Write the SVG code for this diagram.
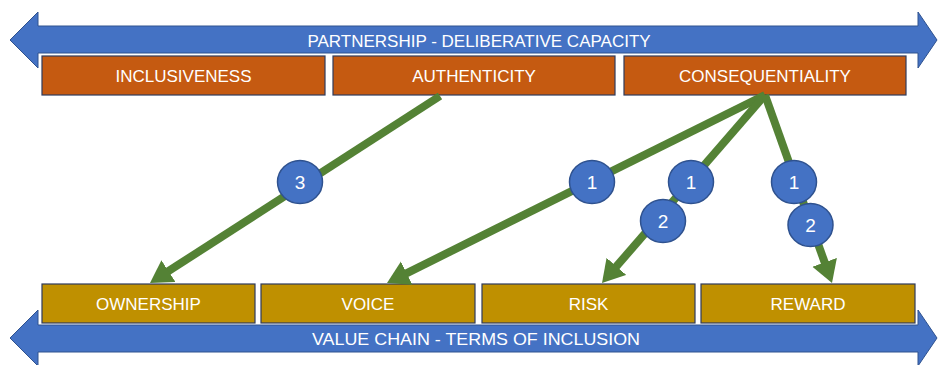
<svg xmlns="http://www.w3.org/2000/svg" width="938" height="365" viewBox="0 0 938 365">
  <style>
    .band { fill: #4472C4; stroke: #2F528F; stroke-width: 1; }
    .top { fill: #C55A11; stroke: #2F3B5C; stroke-width: 1.2; }
    .bot { fill: #BF9000; stroke: #2F3B5C; stroke-width: 1.2; }
    .lbl { fill: #FFFFFF; font-family: "Liberation Sans", Arial, sans-serif; font-size: 17px; text-anchor: middle; }
    .band-lbl { fill: #FFFFFF; font-family: "Liberation Sans", Arial, sans-serif; font-size: 17px; text-anchor: middle; }
    .link { stroke: #548235; stroke-width: 8; fill: none; marker-end: url(#head); }
    .badge { fill: #4472C4; stroke: #2F528F; stroke-width: 1.5; }
    .num { fill: #FFFFFF; font-family: "Liberation Sans", Arial, sans-serif; font-size: 19px; text-anchor: middle; }
  </style>
  <defs>
    <marker id="head" markerUnits="userSpaceOnUse" markerWidth="24" markerHeight="28" refX="2" refY="13" orient="auto" viewBox="0 0 24 28">
      <path d="M0,0 L22,13 L0,26 z" fill="#548235"/>
    </marker>
  </defs>

  <!-- top double arrow band -->
  <g id="band-top">
    <path class="band" d="M10,40 L38,12 L38,26 L918,26 L918,12 L937,40 L918,68 L918,53 L38,53 L38,68 z"/>
    <text class="band-lbl" x="479" y="47">PARTNERSHIP - DELIBERATIVE CAPACITY</text>
  </g>

  <!-- bottom double arrow band -->
  <g id="band-bottom">
    <path class="band" d="M10,338 L38,310 L38,325 L918,325 L918,310 L937,338 L918,366 L918,352 L38,352 L38,366 z"/>
    <text class="band-lbl" x="476" y="345" textLength="328" lengthAdjust="spacingAndGlyphs">VALUE CHAIN - TERMS OF INCLUSION</text>
  </g>

  <!-- deliberative qualities -->
  <g id="inclusiveness">
    <rect class="top" x="42" y="56" width="283" height="39"/>
    <text class="lbl" x="183.5" y="82">INCLUSIVENESS</text>
  </g>
  <g id="authenticity">
    <rect class="top" x="333" y="56" width="282" height="39"/>
    <text class="lbl" x="474" y="82">AUTHENTICITY</text>
  </g>
  <g id="consequentiality">
    <rect class="top" x="624" y="56" width="282" height="39"/>
    <text class="lbl" x="765" y="82">CONSEQUENTIALITY</text>
  </g>

  <!-- terms of inclusion -->
  <g id="ownership">
    <rect class="bot" x="42" y="284" width="213" height="39"/>
    <text class="lbl" x="148.5" y="310">OWNERSHIP</text>
  </g>
  <g id="voice">
    <rect class="bot" x="261" y="284" width="214" height="39"/>
    <text class="lbl" x="368" y="310">VOICE</text>
  </g>
  <g id="risk">
    <rect class="bot" x="482" y="284" width="213" height="39"/>
    <text class="lbl" x="588.5" y="310">RISK</text>
  </g>
  <g id="reward">
    <rect class="bot" x="701" y="284" width="214" height="39"/>
    <text class="lbl" x="808" y="310">REWARD</text>
  </g>

  <!-- connectors -->
  <g id="connectors">
    <line class="link" x1="440" y1="96" x2="166.8" y2="272.2"/>
    <line class="link" x1="765" y1="95" x2="404.9" y2="274.1"/>
    <line class="link" x1="765" y1="95" x2="615.1" y2="267.9"/>
    <line class="link" x1="765" y1="95" x2="825.3" y2="264.2"/>
  </g>

  <!-- step badges -->
  <g id="badge-own-3">
    <ellipse class="badge" cx="300" cy="182" rx="22.5" ry="21.5"/>
    <text class="num" x="300" y="189">3</text>
  </g>
  <g id="badge-voice-1">
    <ellipse class="badge" cx="592" cy="182" rx="22.5" ry="21.5"/>
    <text class="num" x="592" y="189">1</text>
  </g>
  <g id="badge-risk-1">
    <ellipse class="badge" cx="691" cy="182" rx="22.5" ry="21.5"/>
    <text class="num" x="691" y="189">1</text>
  </g>
  <g id="badge-risk-2">
    <ellipse class="badge" cx="663" cy="221" rx="22.5" ry="21.5"/>
    <text class="num" x="663" y="228">2</text>
  </g>
  <g id="badge-reward-1">
    <ellipse class="badge" cx="794" cy="182" rx="22.5" ry="21.5"/>
    <text class="num" x="794" y="189">1</text>
  </g>
  <g id="badge-reward-2">
    <ellipse class="badge" cx="810.5" cy="225" rx="22.5" ry="21.5"/>
    <text class="num" x="810.5" y="232">2</text>
  </g>
</svg>
